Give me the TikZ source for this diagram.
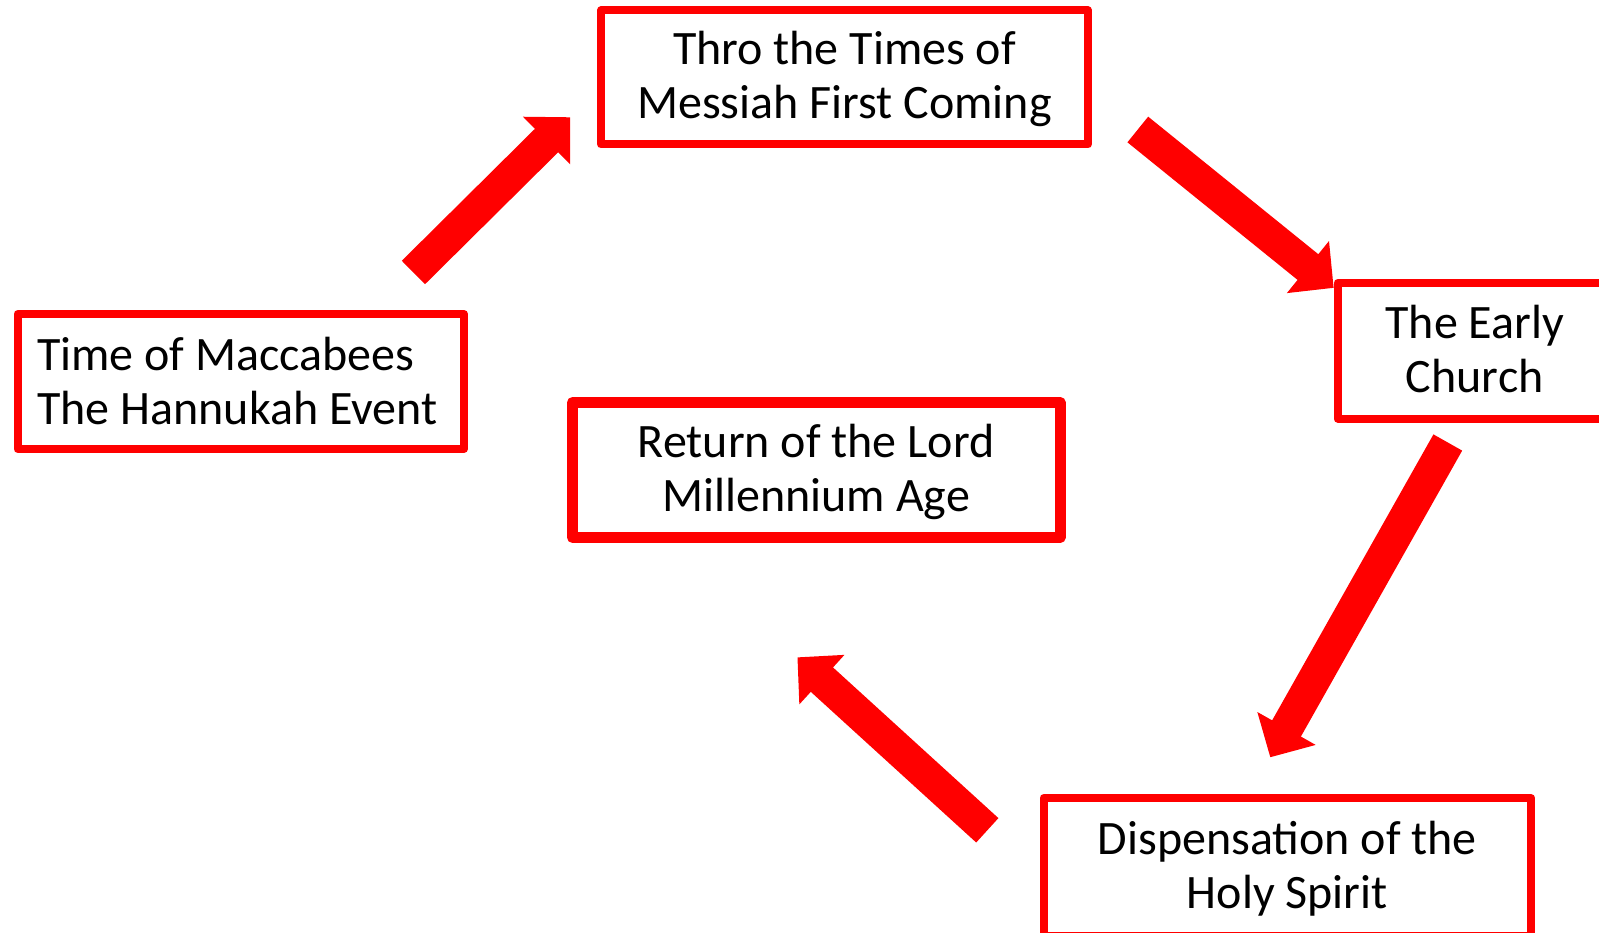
\documentclass[tikz,border=0pt]{standalone}
\usepackage{fontspec}
\setmainfont{Carlito}
\usetikzlibrary{calc}
\definecolor{pptred}{RGB}{255,0,0}
\newcommand\txtH{\rule{0pt}{41pt}}
\newcommand\txtD{\rule[-12pt]{0pt}{12pt}}
\newcommand\blockarrow[3]{%
  \coordinate (#3b) at ($(#2)!33pt!(#1)$);
  \fill[arrowfill] ($(#1)!16.5pt!90:(#2)$)
    -- ($(#3b)!16.5pt!90:(#2)$)
    -- ($(#3b)!33.5pt!90:(#2)$)
    -- (#2)
    -- ($(#3b)!33.5pt!-90:(#2)$)
    -- ($(#3b)!16.5pt!-90:(#2)$)
    -- ($(#1)!16.5pt!-90:(#2)$) -- cycle;
}
\tikzset{
  stage/.style={draw=pptred, line width=8pt, line join=round, fill=white,
    inner sep=0pt, align=center, font=\fontsize{48}{54}\selectfont},
  stagetext/.style={inner sep=0pt, align=left, font=\fontsize{48}{54}\selectfont},
  arrowfill/.style={fill=pptred},
}
\begin{document}
\begin{tikzpicture}[x=1pt,y=-1pt]
\useasboundingbox (0,0) rectangle (1599,933);
\clip (0,0) rectangle (1599,933);
\fill[white] (0,0) rectangle (1599,933);

\node[stage, minimum width=487pt, minimum height=134pt] (messiah) at (844.5,77.5)
  {\txtH Thro the Times of\\Messiah First Coming\txtD};
\node[stage, minimum width=446.5pt, minimum height=135pt] (macc) at (240.75,381.5) {};
\node[stagetext, anchor=north west] (macctext) at (37,329)
  {\txtH Time of Maccabees\\The Hannukah Event\txtD};
\node[stage, line width=11pt, minimum width=487.5pt, minimum height=135pt] (return) at (816.25,470)
  {\txtH Return of the Lord\\Millennium Age\txtD};
\node[stage, minimum width=274.5pt, minimum height=135.5pt] (church) at (1474.75,350.75)
  {\txtH The Early\\Church\txtD};
\node[stage, minimum width=487.7pt, minimum height=138pt] (spirit) at (1287.35,867)
  {\txtH Dispensation of the\\Holy Spirit\txtD};

\coordinate (a1t) at (413.4,272.5);
\coordinate (a1p) at (570,117.3);
\coordinate (a2t) at (1137.8,129.5);
\coordinate (a2p) at (1333.6,287.8);
\coordinate (a3t) at (1447.8,442.5);
\coordinate (a3p) at (1270.3,757.2);
\coordinate (a4t) at (987.3,830.3);
\coordinate (a4p) at (797.5,657.4);

\blockarrow{a1t}{a1p}{a1}
\blockarrow{a2t}{a2p}{a2}
\blockarrow{a3t}{a3p}{a3}
\blockarrow{a4t}{a4p}{a4}
\end{tikzpicture}
\end{document}
